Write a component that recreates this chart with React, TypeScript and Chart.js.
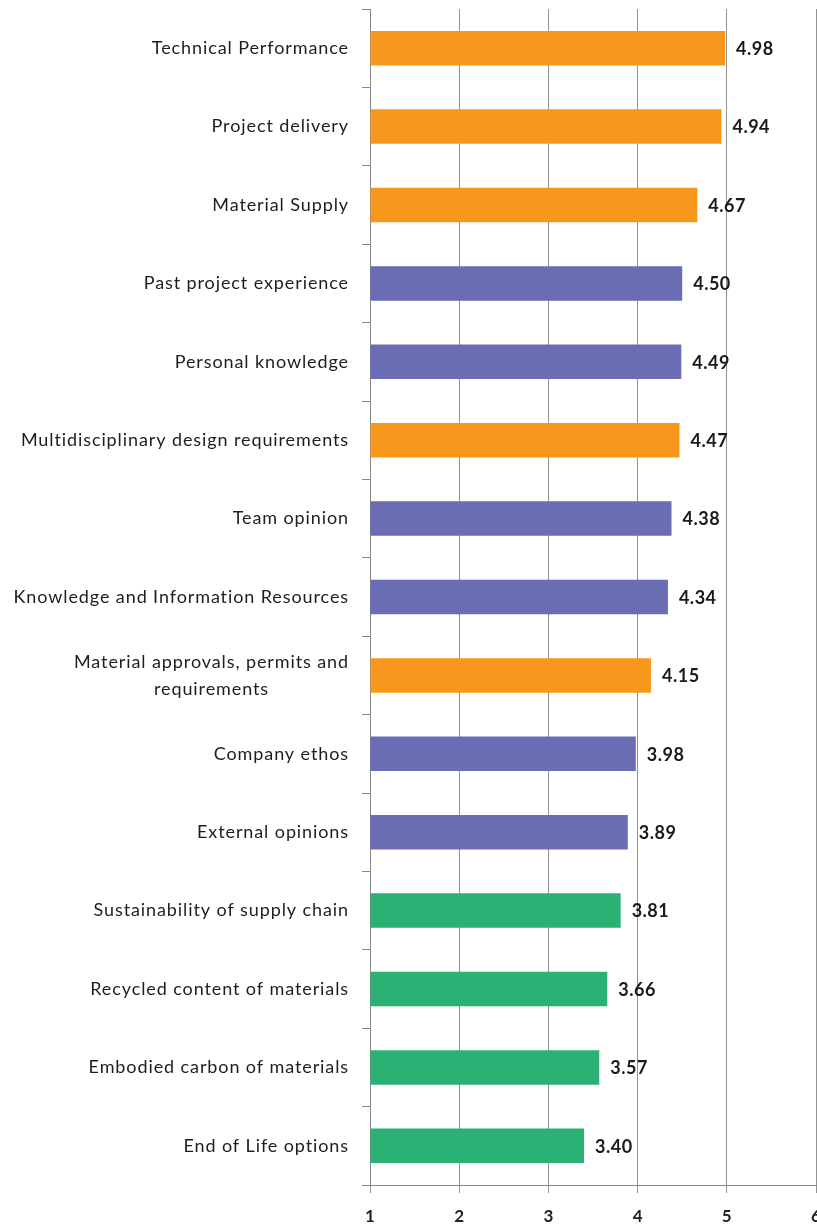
import React, { useEffect, useRef } from "react";
import { Chart, registerables } from "chart.js";

Chart.register(...registerables);

const categories: string[][] = [
  ["Technical Performance"],
  ["Project delivery"],
  ["Material Supply"],
  ["Past project experience"],
  ["Personal knowledge"],
  ["Multidisciplinary design requirements"],
  ["Team opinion"],
  ["Knowledge and Information Resources"],
  ["Material approvals, permits and", "requirements"],
  ["Company ethos"],
  ["External opinions"],
  ["Sustainability of supply chain"],
  ["Recycled content of materials"],
  ["Embodied carbon of materials"],
  ["End of Life options"],
];

const scores: number[] = [4.98, 4.94, 4.67, 4.5, 4.49, 4.47, 4.38, 4.34, 4.15, 3.98, 3.89, 3.81, 3.66, 3.57, 3.4];

const groups: string[] = [
  "orange", "orange", "orange", "purple", "purple", "orange", "purple", "purple",
  "orange", "purple", "purple", "green", "green", "green", "green",
];

const groupColors: Record<string, string> = {
  orange: "#F7981D",
  purple: "#6A6DB3",
  green: "#2BB174",
};

const xTicks: number[] = [1, 2, 3, 4, 5, 6];

const FONT = "Lato, 'Noto Sans', sans-serif";

const valueLabelPlugin = {
  id: "valueLabels",
  afterDatasetsDraw(chart: any) {
    const ctx = chart.ctx;
    const meta = chart.getDatasetMeta(0);
    ctx.save();
    ctx.font = `bold 18px ${FONT}`;
    (ctx as any).letterSpacing = "0.5px";
    ctx.fillStyle = "#1a1a1a";
    ctx.textAlign = "left";
    ctx.textBaseline = "middle";
    meta.data.forEach((el: any, i: number) => {
      ctx.fillText(scores[i].toFixed(2), el.x + 11, el.y + 1);
    });
    ctx.restore();
  },
};

const categoryLabelPlugin = {
  id: "categoryLabels",
  afterDraw(chart: any) {
    const ctx = chart.ctx;
    const yScale = chart.scales.y;
    const right = chart.chartArea.left - 21;
    const lineH = 27;
    ctx.save();
    ctx.font = `18px ${FONT}`;
    (ctx as any).letterSpacing = "0.9px";
    ctx.fillStyle = "#1e1e1e";
    ctx.textBaseline = "middle";
    ctx.textAlign = "left";
    categories.forEach((lines, i) => {
      const yc = yScale.getPixelForValue(i);
      const widths = lines.map((l) => ctx.measureText(l).width);
      const widest = Math.max(...widths);
      const cx = right - widest / 2;
      const y0 = yc - ((lines.length - 1) * lineH) / 2;
      lines.forEach((l, j) => {
        ctx.fillText(l, cx - widths[j] / 2, y0 + j * lineH);
      });
    });
    ctx.restore();
  },
};

export default function App() {
  const canvasRef = useRef<HTMLCanvasElement | null>(null);

  useEffect(() => {
    if (!canvasRef.current) return;
    const chart = new Chart(canvasRef.current, {
      type: "bar",
      data: {
        labels: categories.map((c) => c.join(" ")),
        datasets: [
          {
            data: scores,
            base: 1,
            backgroundColor: groups.map((g) => groupColors[g]),
            borderWidth: 0,
            categoryPercentage: 0.44,
            barPercentage: 1,
          } as any,
        ],
      },
      options: {
        indexAxis: "y",
        animation: false,
        responsive: false,
        maintainAspectRatio: false,
        layout: { padding: { top: 9, left: 0, right: 1, bottom: 0 } },
        plugins: {
          legend: { display: false },
          tooltip: { enabled: false },
          title: { display: false },
        },
        scales: {
          x: {
            type: "linear",
            min: xTicks[0],
            max: xTicks[xTicks.length - 1],
            afterBuildTicks(scale: any) {
              scale.ticks = xTicks.map((v) => ({ value: v }));
            },
            ticks: {
              font: { family: FONT, size: 17, weight: "bold" },
              color: "#222222",
              padding: 13,
              maxRotation: 0,
            },
            grid: {
              color: "#929292",
              lineWidth: 1,
              tickLength: 8,
              drawTicks: true,
            },
            border: { display: true, color: "#858585", width: 1 },
            afterFit(scale: any) {
              scale.paddingLeft = 0;
              scale.paddingRight = 0;
              scale.height = 39;
            },
          },
          y: {
            type: "category",
            ticks: { display: false },
            grid: {
              drawOnChartArea: false,
              drawTicks: true,
              tickLength: 8,
              color: "#858585",
              offset: true,
            },
            border: { display: true, color: "#858585", width: 1 },
            afterFit(scale: any) {
              scale.width = 370;
              scale.paddingTop = 0;
              scale.paddingBottom = 0;
            },
          },
        },
      },
      plugins: [valueLabelPlugin, categoryLabelPlugin],
    });
    return () => chart.destroy();
  }, []);

  return (
    <div
      style={{
        position: "fixed",
        left: 0,
        top: 0,
        width: 817,
        height: 1224,
        overflow: "hidden",
        background: "#ffffff",
      }}
    >
      <canvas ref={canvasRef} width={817} height={1224} style={{ width: 817, height: 1224, display: "block" }} />
    </div>
  );
}
